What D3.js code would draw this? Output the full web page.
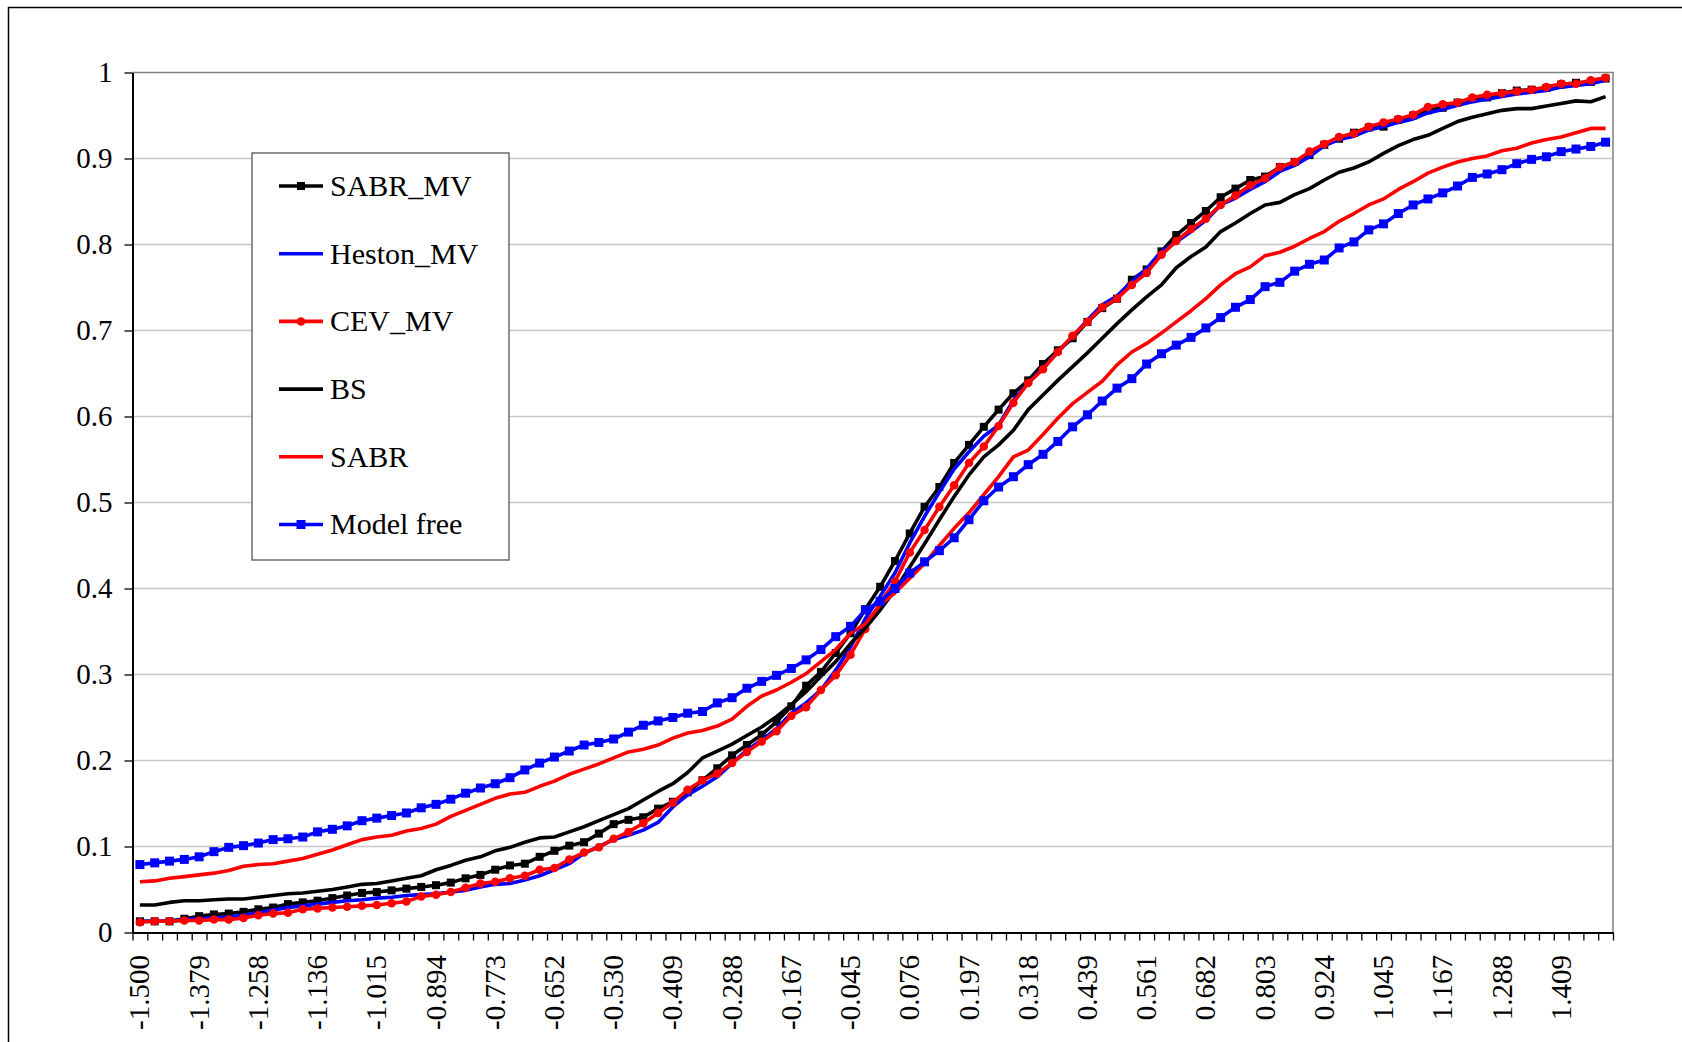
<!DOCTYPE html>
<html lang="en">
<head>
<meta charset="UTF-8">
<title>Distribution comparison</title>
<script src="https://d3js.org/d3.v7.min.js"></script>
<style>
    body { margin: 0; background: #fff; }
    text {
        font-family: 'Liberation Serif', 'Times New Roman', serif;
        font-size: 29px;
        fill: #000;
    }
    .legend text { font-size: 30px; }
</style>
</head>
<body>
<script>

    const width  = 1682;
    const height = 1042;
    const plot = {left: 132.5, right: 1613, top: 72.5, bottom: 932.5};

    // category labels shown on the x axis (every 4th of 100 categories)
    const xTickLabels = [
        "-1.500","-1.379","-1.258","-1.136","-1.015","-0.894","-0.773","-0.652","-0.530",
        "-0.409","-0.288","-0.167","-0.045","0.076","0.197","0.318","0.439","0.561",
        "0.682","0.803","0.924","1.045","1.167","1.288","1.409"
    ];
    const yTicks = [0, 0.1, 0.2, 0.3, 0.4, 0.5, 0.6, 0.7, 0.8, 0.9, 1];

    const sabrMV = [
        0.013,0.013,0.013,0.016,0.019,0.021,0.022,0.024,0.027,0.029,0.033,0.035,0.037,0.040,0.043,0.046,0.047,0.049,0.051,0.053,0.055,0.058,
        0.063,0.067,0.073,0.078,0.080,0.088,0.095,0.101,0.105,0.115,0.126,0.131,0.134,0.144,0.152,0.163,0.177,0.191,0.206,
        0.218,0.230,0.245,0.263,0.287,0.303,0.325,0.348,0.376,0.402,0.432,0.464,0.495,0.518,0.546,
        0.567,0.588,0.608,0.627,0.642,0.661,0.677,0.691,0.710,0.726,0.737,0.759,0.771,0.792,0.811,
        0.825,0.839,0.855,0.865,0.875,0.879,0.890,0.896,0.904,0.916,0.923,0.930,0.936,0.937,0.945,0.950,0.956,
        0.959,0.965,0.969,0.971,0.976,0.979,0.980,0.982,0.986,0.988,0.989,0.993
    ];
    const hestonMV = [
        0.013,0.013,0.013,0.015,0.016,0.017,0.018,0.020,0.023,0.026,0.029,0.031,0.033,0.035,0.037,0.038,0.040,0.041,0.043,0.044,0.045,0.047,
        0.049,0.053,0.056,0.057,0.061,0.066,0.073,0.080,0.092,0.100,0.108,0.113,0.119,0.128,0.146,0.160,0.170,0.181,0.197,
        0.212,0.224,0.237,0.255,0.267,0.282,0.305,0.332,0.365,0.391,0.418,0.453,0.484,0.512,0.539,
        0.559,0.577,0.590,0.619,0.639,0.656,0.675,0.693,0.712,0.730,0.740,0.757,0.772,0.792,0.803,
        0.815,0.828,0.846,0.854,0.864,0.873,0.885,0.892,0.902,0.915,0.922,0.926,0.933,0.937,0.942,0.946,0.953,
        0.957,0.962,0.966,0.969,0.972,0.975,0.977,0.979,0.983,0.985,0.987,0.991
    ];
    const cevMV = [
        0.012,0.013,0.013,0.014,0.014,0.015,0.015,0.017,0.020,0.022,0.023,0.027,0.028,0.029,0.030,0.031,0.032,0.034,0.036,0.042,0.044,0.047,
        0.052,0.057,0.059,0.063,0.066,0.073,0.075,0.085,0.093,0.099,0.109,0.117,0.127,0.139,0.151,0.166,0.177,0.185,0.197,
        0.210,0.222,0.234,0.252,0.262,0.282,0.299,0.323,0.353,0.383,0.408,0.442,0.468,0.495,0.520,
        0.546,0.565,0.589,0.616,0.639,0.655,0.675,0.694,0.710,0.727,0.737,0.753,0.767,0.788,0.804,
        0.818,0.830,0.846,0.857,0.869,0.877,0.890,0.896,0.908,0.917,0.925,0.929,0.937,0.942,0.946,0.951,0.960,
        0.963,0.965,0.971,0.974,0.976,0.978,0.980,0.983,0.987,0.987,0.991,0.994
    ];
    const bs = [
        0.032,0.032,0.035,0.037,0.037,0.038,0.039,0.039,0.041,0.043,0.045,0.046,0.048,0.050,0.053,0.056,0.057,0.060,0.063,0.066,0.073,0.078,
        0.084,0.088,0.095,0.099,0.105,0.110,0.111,0.117,0.123,0.130,0.137,0.144,0.154,0.164,0.173,0.186,0.203,0.211,0.219,
        0.229,0.239,0.251,0.265,0.280,0.298,0.315,0.336,0.354,0.375,0.398,0.425,0.452,0.480,0.507,
        0.532,0.553,0.567,0.584,0.608,0.625,0.642,0.658,0.674,0.691,0.708,0.724,0.739,0.753,0.773,
        0.786,0.797,0.815,0.825,0.836,0.846,0.849,0.858,0.865,0.875,0.884,0.889,0.896,0.906,0.915,0.922,0.927,
        0.935,0.943,0.948,0.952,0.956,0.958,0.958,0.961,0.964,0.967,0.966,0.972
    ];
    const sabr = [
        0.059,0.060,0.063,0.065,0.067,0.069,0.072,0.077,0.079,0.080,0.083,0.086,0.091,0.096,0.102,0.108,0.111,0.113,0.118,0.121,0.126,0.135,
        0.142,0.149,0.156,0.161,0.163,0.170,0.176,0.184,0.190,0.196,0.203,0.210,0.213,0.218,0.226,0.232,0.235,0.240,0.248,
        0.263,0.275,0.282,0.291,0.301,0.315,0.329,0.348,0.359,0.381,0.395,0.412,0.429,0.450,0.470,
        0.488,0.509,0.530,0.553,0.561,0.579,0.598,0.615,0.628,0.641,0.660,0.675,0.685,0.697,0.710,
        0.723,0.737,0.753,0.766,0.774,0.787,0.791,0.798,0.807,0.815,0.827,0.836,0.846,0.853,0.864,0.873,0.883,
        0.890,0.896,0.900,0.903,0.909,0.912,0.918,0.922,0.925,0.930,0.935,0.935
    ];
    const modelFree = [
        0.079,0.081,0.083,0.085,0.088,0.094,0.099,0.101,0.104,0.108,0.109,0.111,0.117,0.120,0.124,0.130,0.133,0.136,0.139,0.145,0.149,0.155,
        0.162,0.168,0.173,0.180,0.189,0.197,0.204,0.211,0.218,0.221,0.225,0.233,0.241,0.246,0.250,0.255,0.257,0.267,0.273,
        0.284,0.292,0.299,0.307,0.317,0.329,0.344,0.356,0.375,0.385,0.400,0.418,0.431,0.444,0.459,
        0.480,0.502,0.518,0.530,0.544,0.556,0.571,0.588,0.602,0.618,0.633,0.644,0.661,0.673,0.683,
        0.692,0.703,0.715,0.727,0.736,0.751,0.756,0.769,0.777,0.782,0.796,0.803,0.817,0.824,0.836,0.846,0.853,
        0.860,0.868,0.878,0.882,0.887,0.894,0.899,0.902,0.908,0.911,0.914,0.919
    ];

    const series = [
        {name: "SABR_MV",    values: sabrMV,    color: "#000000", marker: "square", size: 8},
        {name: "Heston_MV",  values: hestonMV,  color: "#0000ff", marker: null},
        {name: "CEV_MV",     values: cevMV,     color: "#ff0000", marker: "circle", size: 8.5},
        {name: "BS",         values: bs,        color: "#000000", marker: null},
        {name: "SABR",       values: sabr,      color: "#ff0000", marker: null},
        {name: "Model free", values: modelFree, color: "#0000ff", marker: "square", size: 9}
    ];

    const nCat = sabrMV.length;

    const svg = d3.select("body")
            .append("svg")
            .attr("width", width)
            .attr("height", height);

    svg.append("rect").attr("width", width).attr("height", height).attr("fill", "#fff");

    // outer frame (runs off the right and bottom edges)
    svg.append("rect")
            .attr("x", 8.5).attr("y", 7.5)
            .attr("width", width + 20).attr("height", height + 20)
            .attr("fill", "none").attr("stroke", "#000").attr("stroke-width", 1.5);

    const x = d3.scalePoint()
            .domain(d3.range(nCat))
            .range([plot.left, plot.right])
            .padding(0.5);
    const xTick = d3.scaleLinear()
            .domain([0, nCat])
            .range([plot.left, plot.right]);
    const y = d3.scaleLinear()
            .domain([0, 1])
            .range([plot.bottom, plot.top]);

    // gridlines
    svg.append("g")
            .selectAll("line")
            .data(yTicks.filter(d => d > 0 && d < 1))
            .enter()
            .append("line")
            .attr("x1", plot.left).attr("x2", plot.right)
            .attr("y1", d => y(d)).attr("y2", d => y(d))
            .attr("stroke", "#c8c8c8").attr("stroke-width", 1.3);

    // top and right border of the plot area
    svg.append("path")
            .attr("d", `M${plot.left},${plot.top}H${plot.right}V${plot.bottom}`)
            .attr("fill", "none").attr("stroke", "#808080").attr("stroke-width", 1.5);

    // axes
    const yAxis = d3.axisLeft(y)
            .tickValues(yTicks)
            .tickSize(8)
            .tickSizeOuter(0)
            .tickPadding(12)
            .tickFormat(d => d === 0 || d === 1 ? String(d) : d3.format(".1f")(d));
    const gy = svg.append("g")
            .attr("transform", `translate(${plot.left},0)`)
            .call(yAxis);

    const xAxis = d3.axisBottom(xTick)
            .tickValues(d3.range(nCat + 1))
            .tickSize(8)
            .tickSizeOuter(0)
            .tickFormat("");
    const gx = svg.append("g")
            .attr("transform", `translate(0,${plot.bottom})`)
            .call(xAxis);

    [gx, gy].forEach(g => {
        g.select(".domain").attr("stroke", "#000").attr("stroke-width", 2);
        g.selectAll(".tick line").attr("stroke", "#000").attr("stroke-width", 1.3);
        g.selectAll("text")
                .attr("font-family", "'Liberation Serif', serif")
                .attr("font-size", 29)
                .attr("fill", "#000");
    });

    // rotated category labels
    svg.append("g")
            .selectAll("text")
            .data(xTickLabels)
            .enter()
            .append("text")
            .attr("transform", (d, k) => `translate(${x(k * 4)},955) rotate(-90)`)
            .attr("text-anchor", "end")
            .attr("dy", "0.33em")
            .text(d => d);

    // series
    const line = d3.line()
            .x((d, i) => x(i))
            .y(d => y(d));

    function drawMarker(g, s, pts) {
        if (s.marker === "square") {
            g.selectAll("rect.m")
                    .data(pts)
                    .enter()
                    .append("rect")
                    .attr("class", "m")
                    .attr("x", d => d[0] - s.size / 2)
                    .attr("y", d => d[1] - s.size / 2)
                    .attr("width", s.size).attr("height", s.size)
                    .attr("fill", s.color);
        } else if (s.marker === "circle") {
            g.selectAll("circle.m")
                    .data(pts)
                    .enter()
                    .append("circle")
                    .attr("class", "m")
                    .attr("cx", d => d[0]).attr("cy", d => d[1])
                    .attr("r", s.size / 2)
                    .attr("fill", s.color);
        }
    }

    series.forEach(s => {
        const g = svg.append("g");
        g.append("path")
                .attr("d", line(s.values))
                .attr("fill", "none")
                .attr("stroke", s.color)
                .attr("stroke-width", 3.6)
                .attr("stroke-linejoin", "round");
        drawMarker(g, s, s.values.map((v, i) => [x(i), y(v)]));
    });

    // legend
    const legend = svg.append("g").attr("class", "legend");
    legend.append("rect")
            .attr("x", 252).attr("y", 153)
            .attr("width", 257).attr("height", 407)
            .attr("fill", "#fff").attr("stroke", "#555").attr("stroke-width", 1.3);

    series.forEach((s, k) => {
        const ly = 186 + k * 67.7;
        const g = legend.append("g");
        g.append("line")
                .attr("x1", 279).attr("x2", 323)
                .attr("y1", ly).attr("y2", ly)
                .attr("stroke", s.color).attr("stroke-width", 3.6);
        drawMarker(g, s, [[301, ly]]);
        g.append("text")
                .attr("x", 330).attr("y", ly)
                .attr("dy", "0.33em")
                .text(s.name);
    });

</script>
</body>
</html>
